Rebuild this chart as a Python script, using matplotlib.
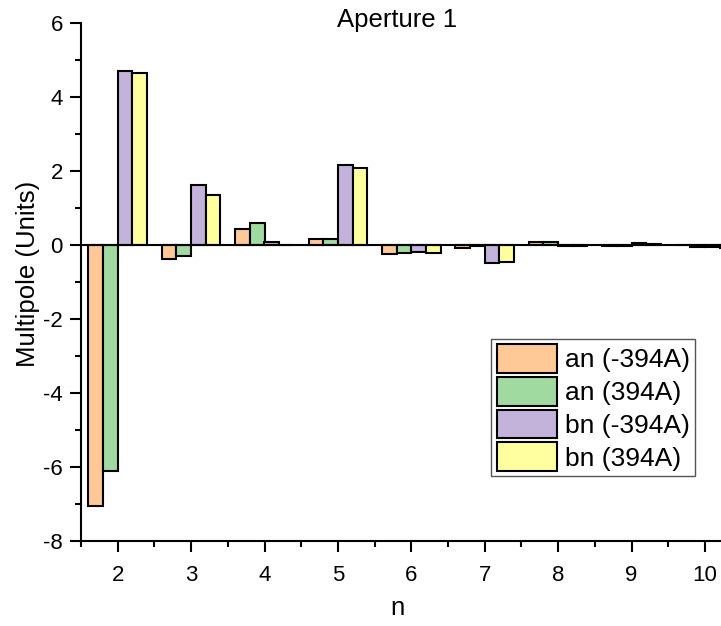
import numpy as np
import matplotlib
matplotlib.use("Agg")
import matplotlib.pyplot as plt
from matplotlib.ticker import MultipleLocator

plt.rcParams['font.family'] = ['Liberation Sans', 'DejaVu Sans']
plt.rcParams['axes.unicode_minus'] = False

n = [2, 3, 4, 5, 6, 7, 8, 9, 10]
an_neg = [-7.05, -0.39, 0.42, 0.17, -0.26, -0.09, 0.07, -0.02, -0.01]
an_pos = [-6.10, -0.31, 0.60, 0.17, -0.21, -0.04, 0.07, -0.03, -0.05]
bn_neg = [4.70, 1.62, 0.07, 2.16, -0.20, -0.48, -0.03, 0.04, -0.07]
bn_pos = [4.64, 1.35, -0.01, 2.08, -0.23, -0.46, -0.02, 0.03, -0.08]

labels = ["an (-394A)", "an (394A)", "bn (-394A)", "bn (394A)"]
colors = ["#FFC896", "#A0DAA0", "#C3B2DA", "#FFFFA0"]

fig = plt.figure(figsize=(7.21, 6.26), dpi=100)
ax = fig.add_axes([81 / 721, 1 - 541 / 626, 640 / 721, (541 - 22.7) / 626])

x = np.array(n, dtype=float)
w = 0.2
for i, (vals, lab, c) in enumerate(zip([an_neg, an_pos, bn_neg, bn_pos], labels, colors)):
    ax.bar(x + (i - 1.5) * w, vals, width=w, color=c, edgecolor="black",
           linewidth=1.5, label=lab, zorder=2)
ax.axhline(0, color="black", lw=1.5, zorder=3)

ax.set_xlim(1.5, 1.5 + 640 / 73.4)
ax.set_ylim(-8, 6)
ax.xaxis.set_major_locator(MultipleLocator(1))
ax.xaxis.set_minor_locator(MultipleLocator(0.5))
ax.yaxis.set_major_locator(MultipleLocator(2))
ax.yaxis.set_minor_locator(MultipleLocator(1))

for s in ["top", "right"]:
    ax.spines[s].set_visible(False)
for s in ["left", "bottom"]:
    ax.spines[s].set_linewidth(1.5)
ax.tick_params(which="major", direction="out", length=8, width=1.5, labelsize=16)
ax.tick_params(which="minor", direction="out", length=4.5, width=1.5)
ax.tick_params(axis="y", pad=5)
ax.tick_params(axis="x", pad=9)

fig.text(397 / 721, 1 - 20 / 626, "Aperture 1", ha="center", va="center", fontsize=18.5)
fig.text(28 / 721, 1 - 274 / 626, "Multipole (Units)", rotation=90, ha="center",
         va="center", fontsize=18.5)
fig.text(397 / 721, 1 - 608 / 626, "n", ha="center", va="center", fontsize=18.5)

leg = ax.legend(loc="upper left", bbox_to_anchor=(0.641, 0.39), fontsize=19,
                handlelength=2.3, handleheight=1.3, labelspacing=0.15,
                handletextpad=0.3, borderpad=0.2, borderaxespad=0,
                fancybox=False, framealpha=1)
leg.get_frame().set_edgecolor("#555555")
leg.get_frame().set_linewidth(1.0)

fig.savefig("out.png", dpi=100)
